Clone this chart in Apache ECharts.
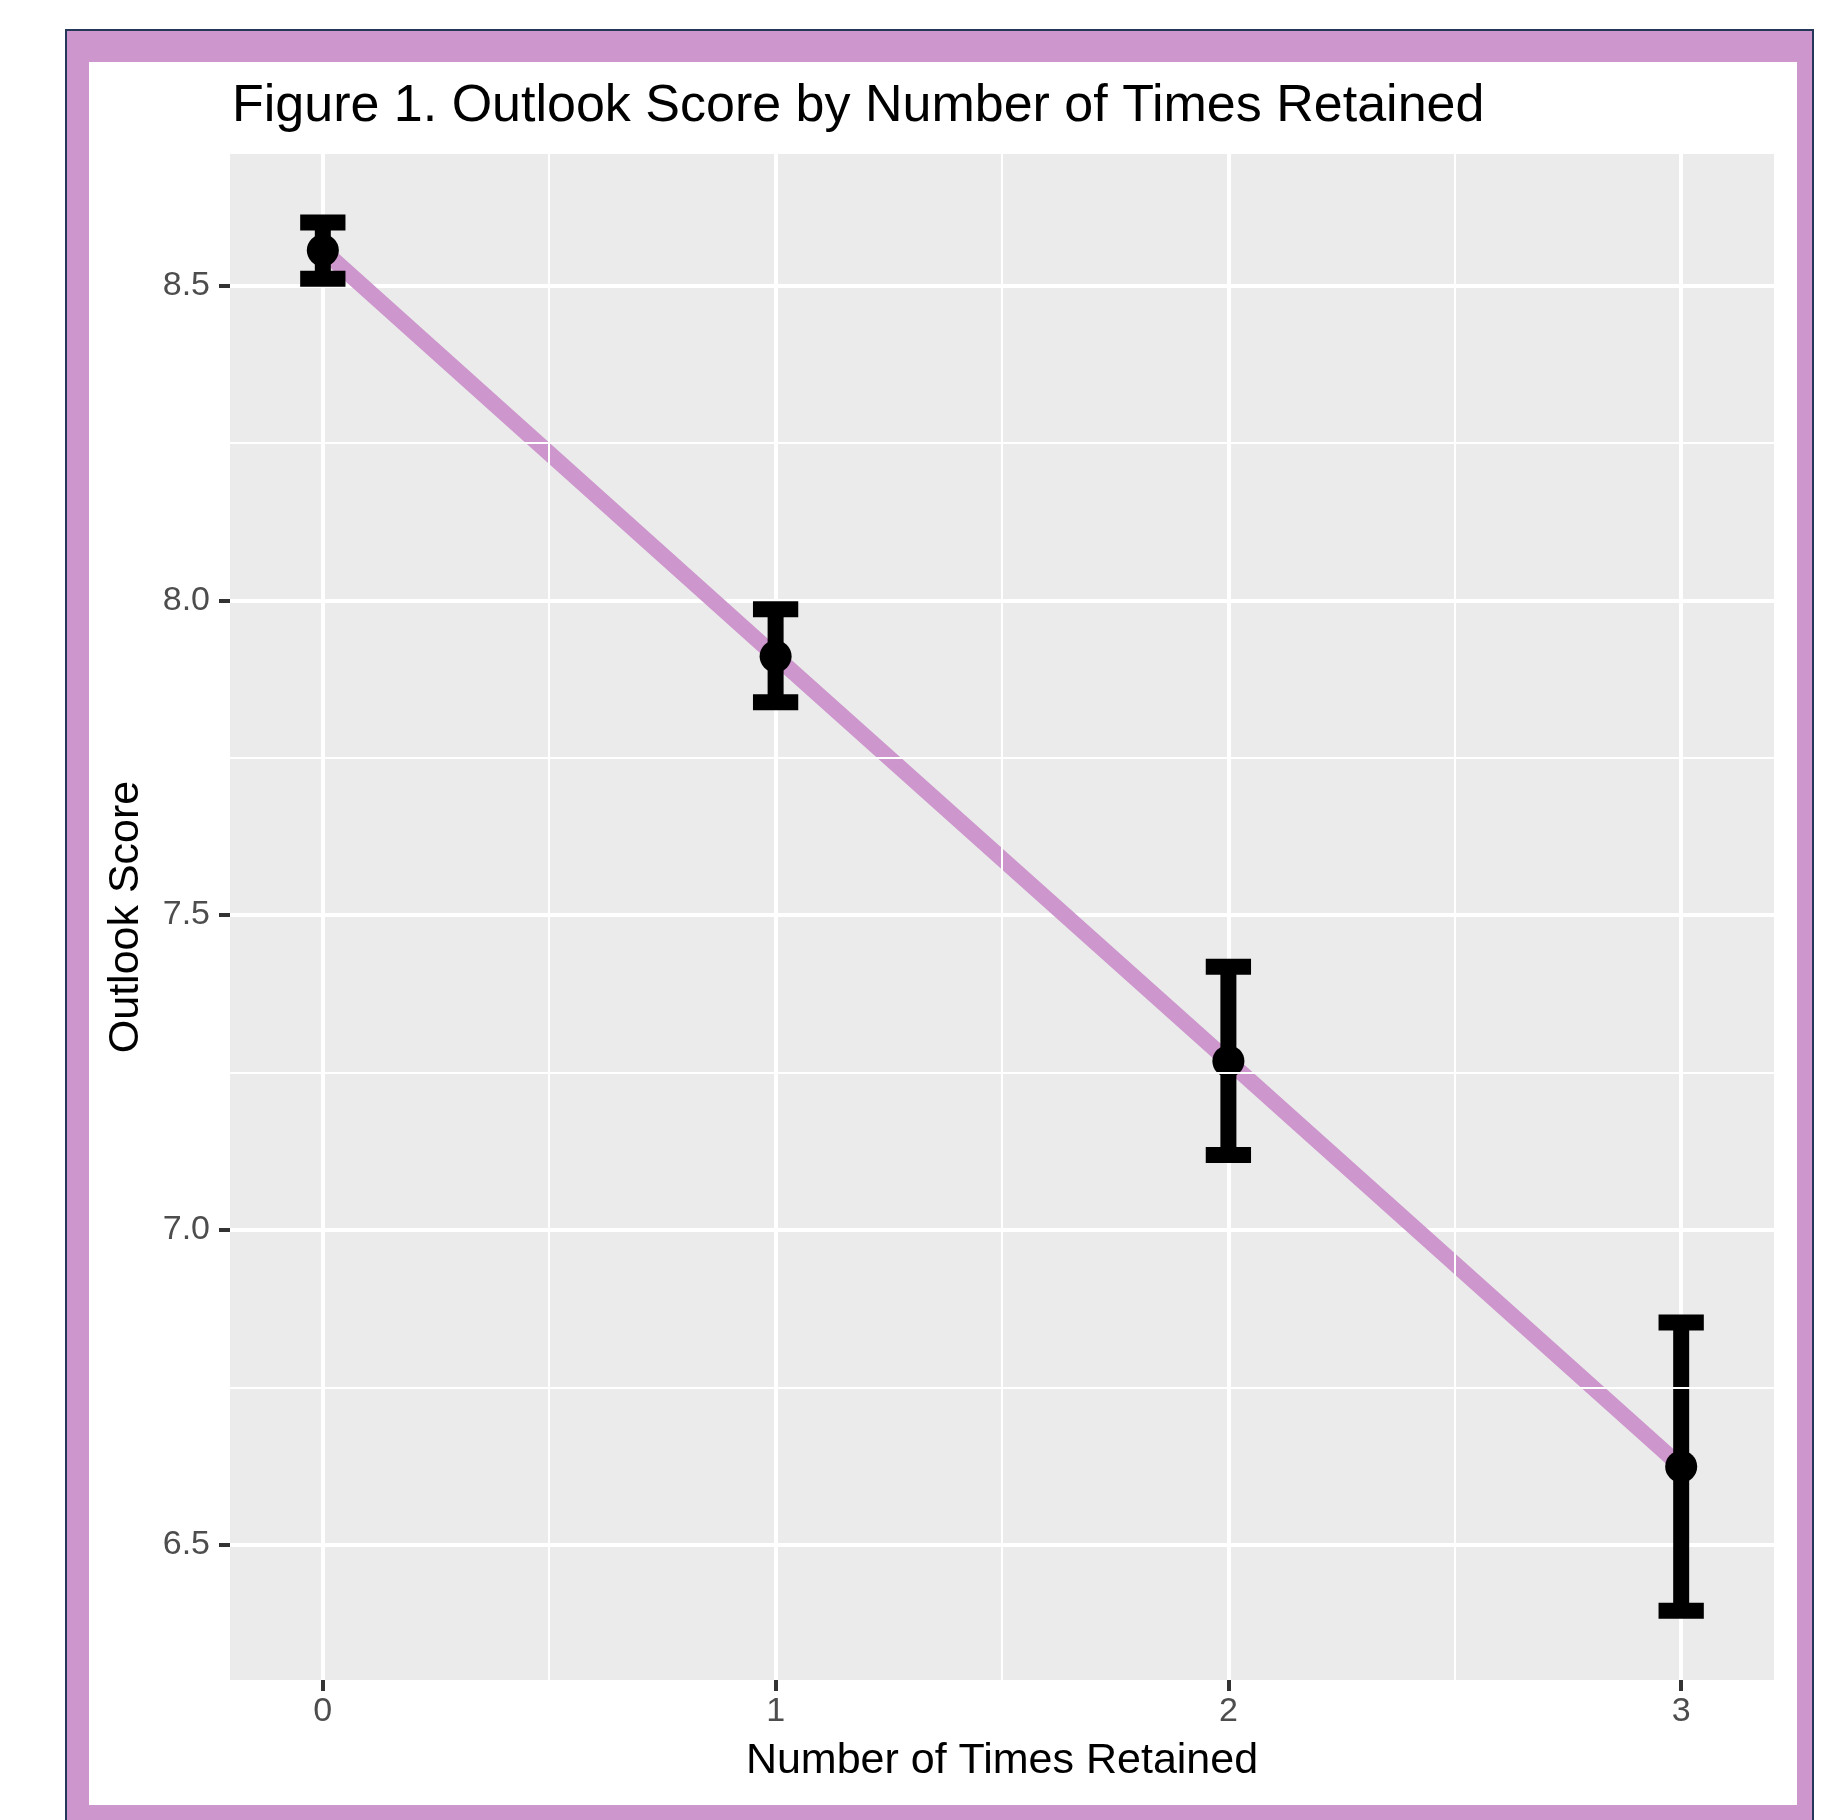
<!DOCTYPE html>
<html>
<head>
<meta charset="utf-8">
<script src="https://cdn.jsdelivr.net/npm/echarts@6/dist/echarts.min.js"></script>
<style>
  html, body { margin: 0; padding: 0; background: #ffffff; }
  #frame { position: absolute; left: 65px; top: 29px; width: 1745px; height: 1820px;
           border-left: 2px solid #263859; border-top: 2px solid #263859; border-right: 2px solid #263859;
           background: #CD96CD; }
  #inner { position: absolute; left: 89px; top: 62px; width: 1708px; height: 1743px; background: #ffffff; }
  #chart { position: absolute; left: 0; top: 0; width: 1835px; height: 1820px; }
</style>
</head>
<body>
<div id="frame"></div>
<div id="inner"></div>
<div id="chart"></div>
<script>
// ---- data ----
const timesRetained = [0, 1, 2, 3];
const meanScore = [8.556, 7.911, 7.268, 6.624];
const lowerCI = [8.511, 7.838, 7.119, 6.395];
const upperCI = [8.600, 7.986, 7.418, 6.853];
const xTicks = [0, 1, 2, 3];
const yTicks = [6.5, 7.0, 7.5, 8.0, 8.5];
const xMinor = [0.5, 1.5, 2.5];
const yMinor = [6.75, 7.25, 7.75, 8.25];

const chart = echarts.init(document.getElementById('chart'), null, { renderer: 'canvas' });
const FONT = '"Liberation Sans", Arial, Helvetica, sans-serif';
const capHalf = 0.05;

const option = {
  backgroundColor: 'transparent',
  animation: false,
  title: {
    text: 'Figure 1. Outlook Score by Number of Times Retained',
    left: 227, top: 76,
    textStyle: { fontFamily: FONT, fontSize: 52, fontWeight: 'normal', color: '#000000' }
  },
  grid: {
    left: 230, top: 154, right: 61, bottom: 140,
    show: true, backgroundColor: '#EBEBEB', borderWidth: 0
  },
  xAxis: {
    type: 'value', min: -0.205, max: 3.205,
    name: 'Number of Times Retained', nameLocation: 'middle', nameGap: 60,
    nameTextStyle: { fontFamily: FONT, fontSize: 43, color: '#000000' },
    axisLine: { show: false, onZero: false },
    axisTick: { show: true, length: 11, lineStyle: { color: '#333333', width: 4 }, customValues: xTicks },
    axisLabel: { fontFamily: FONT, fontSize: 34, color: '#4D4D4D', margin: 15, customValues: xTicks,
                 formatter: v => String(v) },
    splitLine: { show: true, lineStyle: { color: '#ffffff', width: 4 } }
  },
  yAxis: {
    type: 'value', min: 6.285, max: 8.709,
    name: 'Outlook Score', nameLocation: 'middle', nameGap: 82, nameRotate: 90,
    nameTextStyle: { fontFamily: FONT, fontSize: 43, color: '#000000' },
    axisLine: { show: false, onZero: false },
    axisTick: { show: true, length: 11, lineStyle: { color: '#333333', width: 4 }, customValues: yTicks },
    axisLabel: { fontFamily: FONT, fontSize: 34, color: '#4D4D4D', margin: 20, customValues: yTicks,
                 formatter: v => v.toFixed(1) },
    splitLine: { show: true, lineStyle: { color: '#ffffff', width: 4 } }
  },
  series: [
    {
      name: 'minorGrid', type: 'line', data: [], z: 1, silent: true,
      markLine: {
        silent: true, symbol: 'none', label: { show: false }, animation: false,
        lineStyle: { color: '#ffffff', width: 2, type: 'solid' },
        data: xMinor.map(v => ({ xAxis: v })).concat(yMinor.map(v => ({ yAxis: v })))
      }
    },
    {
      name: 'trend', type: 'line', z: 2, symbol: 'none',
      data: timesRetained.map((x, i) => [x, meanScore[i]]),
      lineStyle: { color: '#CD96CD', width: 16 }
    },
    {
      name: 'errorbar', type: 'custom', z: 3,
      data: timesRetained.map((x, i) => [x, lowerCI[i], upperCI[i]]),
      renderItem: function (params, api) {
        const x = api.value(0), lo = api.value(1), hi = api.value(2);
        const pHi = api.coord([x, hi]);
        const pLo = api.coord([x, lo]);
        const l = api.coord([x - capHalf, hi])[0];
        const r = api.coord([x + capHalf, hi])[0];
        const style = { stroke: '#000000', lineWidth: 16, lineCap: 'butt' };
        return {
          type: 'group',
          children: [
            { type: 'line', shape: { x1: pHi[0], y1: pHi[1], x2: pLo[0], y2: pLo[1] }, style: style },
            { type: 'line', shape: { x1: l, y1: pHi[1], x2: r, y2: pHi[1] }, style: style },
            { type: 'line', shape: { x1: l, y1: pLo[1], x2: r, y2: pLo[1] }, style: style }
          ]
        };
      }
    },
    {
      name: 'mean', type: 'scatter', z: 4, symbol: 'circle', symbolSize: 32,
      data: timesRetained.map((x, i) => [x, meanScore[i]]),
      itemStyle: { color: '#000000', opacity: 1 }
    }
  ]
};
chart.setOption(option);
</script>
</body>
</html>
